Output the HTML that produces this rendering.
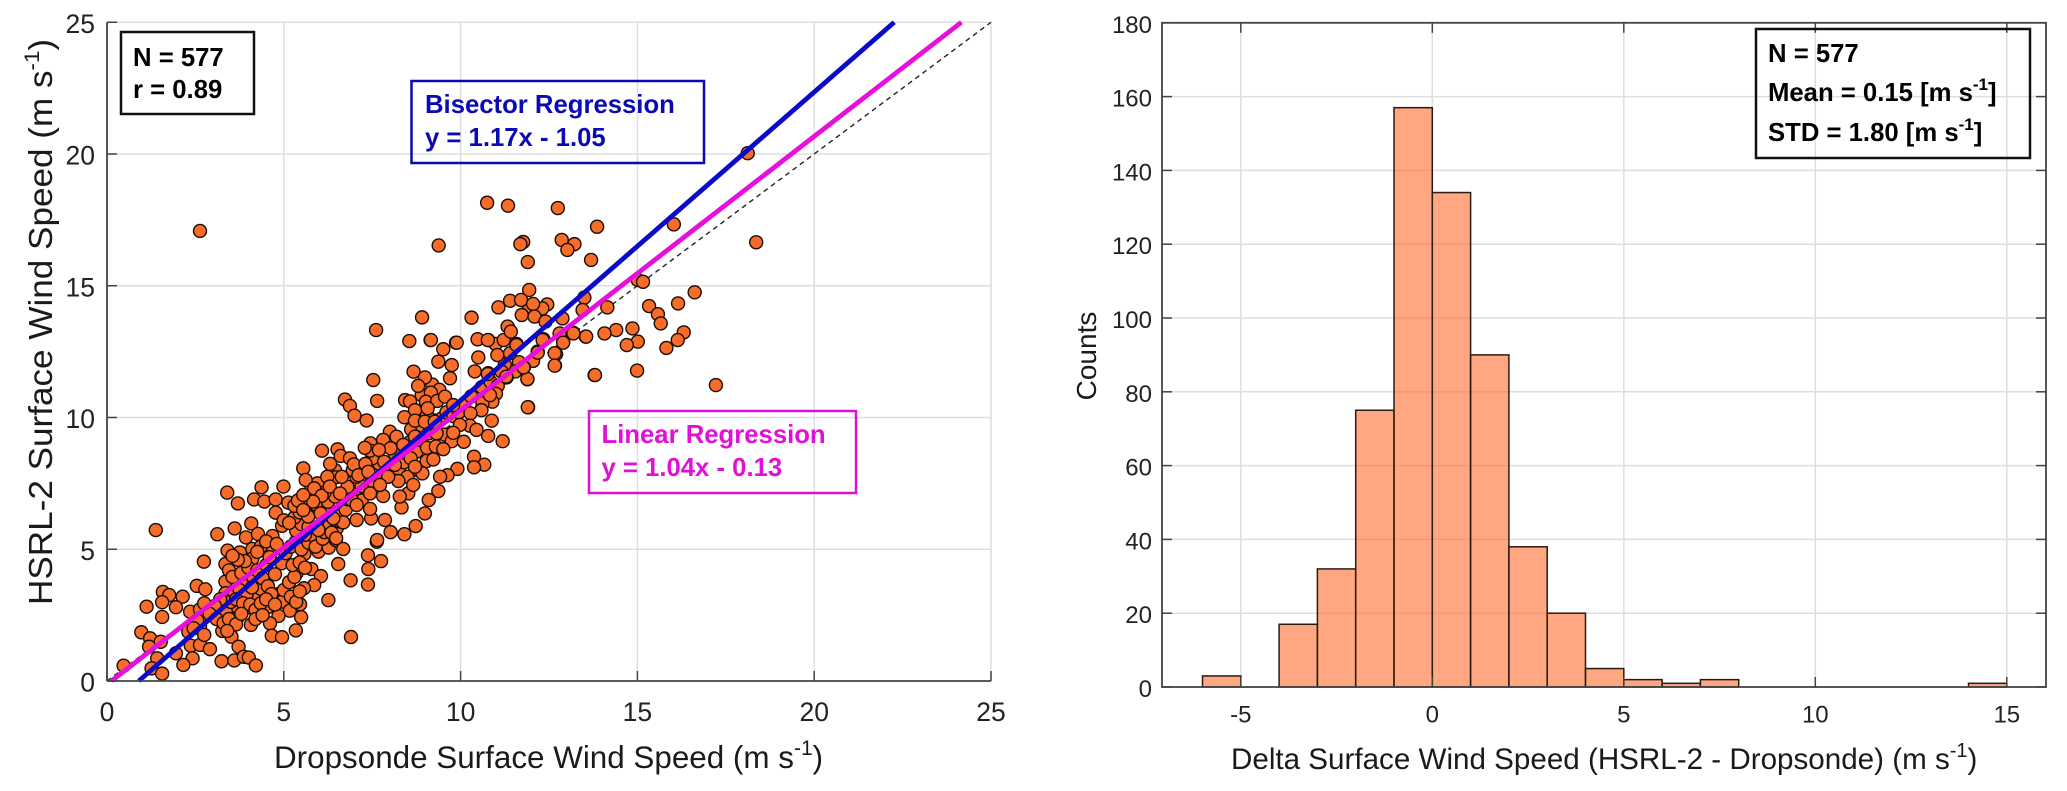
<!DOCTYPE html>
<html lang="en">
<head>
<meta charset="utf-8">
<title>HSRL-2 vs Dropsonde Surface Wind Speed</title>
<style>
html,body{margin:0;padding:0;background:#fff;}
svg{display:block;font-family:"Liberation Sans",Arial,sans-serif;}
.tick{font-size:24px;fill:#222;}
.tick-left{font-size:26.5px;fill:#222;}
.title{fill:#1a1a1a;}
.note{font-size:25.7px;font-weight:bold;}
</style>
</head>
<body>
<svg id="figure" width="2067" height="791" viewBox="0 0 2067 791" xmlns="http://www.w3.org/2000/svg">
  <rect width="2067" height="791" fill="#fff"/>
  <g id="scatterPanel"></g>
  <g id="histPanel"></g>

  <text class="title" font-size="31.4" x="274" y="768">Dropsonde Surface Wind Speed (m s<tspan dy="-13" font-size="21">-1</tspan><tspan dy="13">)</tspan></text>
  <text class="title" font-size="33" transform="translate(52,605) rotate(-90) scale(1.064,1)">HSRL-2 Surface Wind Speed (m s<tspan dy="-13" font-size="21">-1</tspan><tspan dy="13">)</tspan></text>
  <text class="title" font-size="29.6" x="1231" y="769">Delta Surface Wind Speed (HSRL-2 - Dropsonde) (m s<tspan dy="-12" font-size="20">-1</tspan><tspan dy="12">)</tspan></text>
  <text class="title" font-size="28" transform="translate(1096,356) rotate(-90)" text-anchor="middle">Counts</text>

  <g>
    <rect x="121" y="32" width="133" height="82" fill="none" stroke="#111" stroke-width="2.5"/>
    <text class="note" x="133" y="66" fill="#000">N = 577</text>
    <text class="note" x="133" y="98" fill="#000">r = 0.89</text>
  </g>
  <g>
    <rect x="411.5" y="81" width="292.5" height="82" fill="none" stroke="#0a0ab4" stroke-width="2.5"/>
    <text class="note" x="425" y="113" fill="#0a0ab4">Bisector Regression</text>
    <text class="note" x="425" y="146" fill="#0a0ab4">y = 1.17x - 1.05</text>
  </g>
  <g>
    <rect x="589" y="411" width="267" height="82" fill="none" stroke="#e010d8" stroke-width="2.5"/>
    <text class="note" x="601.5" y="443" fill="#e010d8">Linear Regression</text>
    <text class="note" x="601.5" y="476" fill="#e010d8">y = 1.04x - 0.13</text>
  </g>
  <g>
    <rect x="1756" y="29" width="274" height="129" fill="none" stroke="#111" stroke-width="2.5"/>
    <text class="note" x="1768" y="62" fill="#000">N = 577</text>
    <text class="note" x="1768" y="101" fill="#000">Mean = 0.15 [m s<tspan dy="-11" font-size="17">-1</tspan><tspan dy="11">]</tspan></text>
    <text class="note" x="1768" y="141" fill="#000">STD = 1.80 [m s<tspan dy="-11" font-size="17">-1</tspan><tspan dy="11">]</tspan></text>
  </g>
</svg>
<script>
const scatterXTicks = [0, 5, 10, 15, 20, 25];
const scatterYTicks = [0, 5, 10, 15, 20, 25];
const histXTicks = [-5, 0, 5, 10, 15];
const histYTicks = [0, 20, 40, 60, 80, 100, 120, 140, 160, 180];
const binLeftEdges = [-6, -5, -4, -3, -2, -1, 0, 1, 2, 3, 4, 5, 6, 7, 14];
const binCounts = [3, 0, 17, 32, 75, 157, 134, 90, 38, 20, 5, 2, 1, 2, 1];
const bisectorFit = [1.17, -1.05];
const linearFit = [1.04, -0.13];
const windPairs = [
[1.38,5.73],[3.40,7.15],[3.70,6.74],[4.16,6.89],[4.45,6.81],[4.37,7.35],[4.99,7.38],[4.77,6.89],[5.13,6.77],[4.77,6.39],
[4.95,5.89],[3.12,5.57],[3.61,5.79],[4.08,5.98],[3.93,5.45],[4.27,5.58],[4.68,5.50],[3.41,4.95],[3.76,4.88],[4.11,5.01],
[4.11,4.64],[2.74,4.53],[3.35,4.44],[4.70,4.97],[4.94,4.47],[5.36,4.09],[5.58,4.82],[5.98,4.91],[5.78,4.25],[6.27,5.06],
[6.47,5.35],[6.68,5.01],[6.54,4.44],[6.05,3.98],[5.86,3.64],[5.57,3.52],[4.84,3.30],[4.75,4.05],[3.35,3.77],[2.54,3.61],
[2.78,3.48],[1.58,3.38],[1.76,3.26],[2.14,3.20],[1.56,2.99],[1.12,2.82],[1.95,2.80],[1.56,2.43],[2.35,2.63],[2.63,2.72],
[2.63,2.38],[3.35,3.33],[3.76,3.83],[4.26,3.20],[3.67,2.82],[3.36,2.63],[3.69,2.40],[3.95,2.78],[4.56,2.81],[4.96,3.01],
[5.17,2.67],[5.46,2.91],[5.49,2.42],[4.85,2.47],[4.61,2.19],[4.07,2.13],[3.26,1.90],[3.52,1.68],[3.72,1.30],[4.66,1.72],
[4.95,1.66],[5.34,1.92],[6.26,3.07],[6.89,3.82],[7.38,3.66],[7.39,4.25],[7.75,4.55],[7.38,4.77],[7.63,5.29],[6.90,1.67],
[0.97,1.85],[1.22,1.62],[1.52,1.49],[1.19,1.30],[2.37,1.34],[2.63,1.37],[2.91,1.21],[1.95,1.05],[1.42,0.86],[2.42,0.86],
[2.16,0.61],[3.24,0.75],[3.60,0.78],[3.87,0.92],[4.01,0.89],[4.21,0.59],[1.26,0.48],[1.56,0.28],[0.47,0.58],[2.30,1.87],
[2.63,2.06],
[3.45,4.2],[3.55,3.95],[3.8,4.1],[3.9,3.6],[4.0,4.3],[4.15,3.9],[4.25,4.2],[4.35,3.5],[4.4,3.9],[4.5,4.4],
[4.55,3.6],[4.65,3.3],[3.6,3.35],[3.75,3.45],[3.95,3.3],[4.1,3.55],[3.5,3.0],[3.65,3.1],[3.85,2.95],[4.05,2.9],
[4.2,2.7],[4.35,2.95],[4.5,3.1],[3.2,3.1],[3.05,2.85],[2.9,2.55],[3.1,2.35],[3.3,2.2],[3.45,2.35],[3.65,2.15],
[3.8,2.55],[4.2,2.35],[4.4,2.5],[2.75,2.95],[2.55,2.3],[2.45,2.0],[2.75,1.75],[3.4,1.9],[4.75,2.9],[5.0,3.45],
[5.2,3.2],[5.35,3.0],[5.15,3.75],[5.3,3.95],[5.45,3.4],[5.25,4.4],[5.45,4.5],[5.6,4.3],[5.05,4.85],[5.2,5.1],
[5.35,5.3],[5.5,5.0],[5.7,5.25],[5.85,5.5],[5.6,5.55],[5.9,5.1],[6.1,5.4],[5.35,5.7],[5.5,5.95],[5.7,5.85],
[6.0,5.8],[6.15,5.65],[6.3,5.9],[6.5,5.8],[6.6,6.05],[6.3,6.3],[6.55,6.45],[6.15,6.5],[5.3,6.2],[5.45,6.4],
[5.7,6.55],[5.9,6.7],[5.6,6.95],[5.3,6.65],[6.25,6.8],[6.45,7.0],[6.75,6.5],[6.8,6.9],[7.0,7.1],[7.2,7.4],
[7.2,6.85],[7.5,7.6],[7.6,7.85],[7.85,8.1],[8.05,7.9],[7.7,8.25],[8.25,8.05],[8.5,7.75],[8.4,8.3],[8.8,8.0],
[8.15,8.6],[8.45,8.65],[8.75,8.7],[4.35,5.1],[4.5,5.3],[4.6,4.7],[4.25,4.9],[3.9,4.55],[3.7,4.6],[3.55,4.75],
[4.8,5.2],[5.4,6.85],[5.0,6.1],[5.15,6.0],[5.75,7.2],[5.95,7.5],[6.15,7.15],[7.05,7.75],[7.3,8.1],[7.5,8.45],
[6.95,8.0],[6.45,8.0],[8.6,9.55],[8.9,9.7],[9.1,9.4],[9.2,9.9],[9.45,9.95],[9.6,10.2],[9.8,10.05],[9.95,10.2],
[10.1,10.5],[10.3,10.8],[8.55,9.05],[8.85,9.15],[9.05,8.85],[9.3,8.9],[9.55,9.35],[9.75,9.1],[8.9,10.85],[9.2,11.25],
[9.4,11.05],[9.05,10.1],[10.6,11.15],[10.85,11.35],[11.05,11.2],[10.4,11.75],[11.0,10.9],[10.9,10.6],[11.25,12.0],[11.65,12.1],
[12.05,12.15],[11.55,11.75],
[7.61,13.32],[8.55,12.90],[9.15,12.94],[9.87,12.84],[9.51,12.59],[9.37,12.12],[9.75,11.99],[10.48,12.97],[10.78,12.94],[10.99,12.79],
[11.22,12.94],[11.58,12.79],[10.50,12.28],[11.04,12.37],[11.40,12.44],[9.70,11.49],[10.78,11.68],[11.16,11.74],[11.30,11.52],[11.79,11.90],
[11.89,11.45],[12.18,12.50],[12.34,12.97],[12.70,12.41],[12.67,11.97],[12.90,12.88],[13.18,13.22],[13.54,13.07],[13.79,11.61],[11.91,10.39],
[7.53,11.42],[8.67,11.74],[8.99,11.52],[8.80,11.20],[9.16,10.94],[6.73,10.68],[6.87,10.44],[7.00,10.07],[7.34,9.89],[7.64,10.63],
[8.43,10.66],[8.57,10.61],[9.02,10.60],[9.34,10.63],[9.56,10.79],[8.71,10.28],[9.07,10.35],[8.41,10.01],[8.71,9.88],[8.99,9.84],
[9.79,10.47],[10.62,10.54],[10.83,10.85],[10.59,10.28],[10.28,10.16],[10.26,9.69],[9.98,9.72],[10.88,9.88],[10.45,9.53],[9.79,9.42],
[10.09,9.08],[9.32,9.40],[9.27,9.84],[10.78,9.30],[11.19,9.10],[9.51,8.80],[10.38,8.51],[9.91,8.05],[10.67,8.21],[10.38,8.11],
[9.63,7.81],[9.42,7.75],[9.37,7.21],[9.10,6.87],[8.99,6.36],[8.73,5.88],[8.41,5.57],[8.02,5.65],[7.86,6.11],[7.06,6.11],
[7.47,6.17],[7.44,6.53],[6.68,6.02],[8.33,6.59],[7.81,7.02],[7.44,7.12],[8.52,7.12],[8.66,7.44],[8.24,7.59],[8.92,7.88],
[9.04,8.35],[9.23,8.41],[8.59,8.45],[8.00,9.46],[8.19,9.27],[7.81,9.15],[8.02,8.83],[7.45,9.02],[7.44,8.74],[7.69,8.77],
[7.29,8.85],[8.38,8.96],[8.71,9.27],[6.08,8.74],[6.52,8.79],[6.61,8.54],[6.31,8.24],[6.87,8.45],[6.98,8.22],[7.31,8.24],
[7.84,8.32],[8.14,8.20],[7.11,7.81],[6.47,7.73],[6.23,7.75],[6.80,7.37],[6.64,7.75],[7.95,7.75],[7.72,7.44],[7.39,7.94],
[8.71,8.13],[5.55,8.07],[5.62,7.63],[5.86,7.31],[6.07,7.03],[6.30,7.38],[6.59,7.12],[6.92,6.87],[7.06,6.68],[5.83,6.81],
[5.55,7.06],[6.04,6.36],[6.40,6.17],[5.69,6.24],[5.98,5.73],[6.35,5.63],[6.48,5.42],[7.64,5.35],[5.55,6.49],[8.28,7.00],
[10.75,18.15],[11.34,18.04],[12.75,17.95],[9.38,16.53],[11.77,16.66],[11.69,16.58],[13.86,17.24],[12.86,16.74],[13.22,16.58],[13.02,16.36],
[11.90,15.90],[13.69,15.98],[18.12,20.03],[16.03,17.33],[18.36,16.65],[11.94,14.84],[13.50,14.55],[15.01,15.22],[15.16,15.15],[16.62,14.75],
[15.33,14.23],[16.15,14.33],[15.58,13.92],[15.66,13.57],[16.31,13.23],[16.14,12.94],[15.82,12.64],[15.01,12.88],[14.70,12.75],[14.86,13.38],
[14.40,13.32],[14.07,13.19],[13.55,13.07],[14.15,14.18],[13.45,14.08],[12.88,13.76],[11.40,14.43],[11.07,14.18],[11.71,14.46],[12.45,14.29],
[12.31,14.14],[11.91,14.05],[12.05,14.31],[11.73,13.89],[12.09,13.83],[12.40,13.64],[11.33,13.45],[11.42,13.26],[8.91,13.80],[10.31,13.79],
[9.16,12.94],[9.89,12.84],[10.77,12.94],[11.58,12.75],[12.32,12.94],[12.80,13.19],[13.19,13.19],[12.90,12.84],[12.66,12.44],[12.18,12.46],
[12.66,11.97],[13.80,11.61],[14.99,11.78],[17.22,11.23],[11.89,11.46],[11.90,10.39],[11.29,11.55],[10.77,11.65],[11.78,11.90],
[2.63,17.08]
];

const SVG_NS = 'http://www.w3.org/2000/svg';
const scatterPanel = document.getElementById('scatterPanel');
const histPanel = document.getElementById('histPanel');

const sx = v => 107 + v * 35.36;
const sy = v => 681 - v * 26.35;
const hx = v => 1432.3 + v * 38.3;
const hy = v => 687 - v * 3.69;

function make(parent, tag, attrs) {
  const node = document.createElementNS(SVG_NS, tag);
  for (const key in attrs) node.setAttribute(key, attrs[key]);
  parent.appendChild(node);
  return node;
}

const GRID = '#dedede';
const AXIS = '#444';

/* ---------- scatter panel ---------- */
scatterXTicks.forEach(function (t) {
  if (t !== 0) {
    const g = make(scatterPanel, 'line', {x1: sx(t), x2: sx(t), y1: sy(0), y2: sy(25), stroke: GRID, 'stroke-width': 1.5});
    
    
  }
});
scatterYTicks.forEach(function (t) {
  if (t !== 0) {
    const g = make(scatterPanel, 'line', {x1: sx(0), x2: sx(25), y1: sy(t), y2: sy(t), stroke: GRID, 'stroke-width': 1.5});
    
    
  }
});

const identity = make(scatterPanel, 'line', {x1: sx(0), y1: sy(0), x2: sx(25), y2: sy(25), stroke: '#222', 'stroke-width': 1.4, 'stroke-dasharray': '5 4'});



windPairs.forEach(function (p) {
  const c = make(scatterPanel, 'circle', {cx: sx(p[0]), cy: sy(p[1]), r: 6.5, fill: '#f86c2a', stroke: '#1a0d06', 'stroke-width': 1.4});
  
  
});

function fitEnds(fit) {
  const xStart = (0 - fit[1]) / fit[0];
  const xEnd = (25 - fit[1]) / fit[0];
  return {x1: sx(xStart), y1: sy(0), x2: sx(xEnd), y2: sy(25)};
}
const blueEnds = fitEnds(bisectorFit);
const blueLine = make(scatterPanel, 'line', {x1: blueEnds.x1, y1: blueEnds.y1, x2: blueEnds.x2, y2: blueEnds.y2, stroke: '#0a0ac8', 'stroke-width': 4.8});


const pinkEnds = fitEnds(linearFit);
const pinkLine = make(scatterPanel, 'line', {x1: pinkEnds.x1, y1: pinkEnds.y1, x2: pinkEnds.x2, y2: pinkEnds.y2, stroke: '#e60fdc', 'stroke-width': 4.8});



const sxAxis = make(scatterPanel, 'line', {x1: sx(0), x2: sx(25), y1: sy(0), y2: sy(0), stroke: AXIS, 'stroke-width': 1.8});


const syAxis = make(scatterPanel, 'line', {x1: sx(0), x2: sx(0), y1: sy(0), y2: sy(25), stroke: AXIS, 'stroke-width': 1.8});



scatterXTicks.forEach(function (t) {
  const m = make(scatterPanel, 'line', {x1: sx(t), x2: sx(t), y1: sy(0), y2: sy(0) - 10, stroke: AXIS, 'stroke-width': 1.5});
  
  
  const l = make(scatterPanel, 'text', {x: sx(t), y: 721, 'text-anchor': 'middle', class: 'tick-left'});
  
  
  l.textContent = t;
});
scatterYTicks.forEach(function (t) {
  const m = make(scatterPanel, 'line', {x1: sx(0), x2: sx(0) + 10, y1: sy(t), y2: sy(t), stroke: AXIS, 'stroke-width': 1.5});
  
  
  const l = make(scatterPanel, 'text', {x: 95, y: sy(t) + 10.5, 'text-anchor': 'end', class: 'tick-left'});
  
  
  l.textContent = t;
});

/* ---------- histogram panel ---------- */
const hLeft = 1162, hRight = 2046;
histXTicks.forEach(function (t) {
  const g = make(histPanel, 'line', {x1: hx(t), x2: hx(t), y1: hy(0), y2: hy(180), stroke: GRID, 'stroke-width': 1.5});
  
  
});
histYTicks.forEach(function (t) {
  if (t !== 0 && t !== 180) {
    const g = make(histPanel, 'line', {x1: hLeft, x2: hRight, y1: hy(t), y2: hy(t), stroke: GRID, 'stroke-width': 1.5});
    
    
  }
});

binCounts.forEach(function (count, i) {
  if (count > 0) {
    const bar = make(histPanel, 'rect', {
      x: hx(binLeftEdges[i]),
      y: hy(count),
      width: hx(binLeftEdges[i] + 1) - hx(binLeftEdges[i]),
      height: hy(0) - hy(count),
      fill: '#fe6c2b',
      'fill-opacity': 0.6,
      stroke: '#2a1a12',
      'stroke-width': 1.5
    });
    
    
  }
});

const hFrame = make(histPanel, 'rect', {x: hLeft, y: hy(180), width: hRight - hLeft, height: hy(0) - hy(180), fill: 'none', stroke: AXIS, 'stroke-width': 1.8});



histXTicks.forEach(function (t) {
  const m1 = make(histPanel, 'line', {x1: hx(t), x2: hx(t), y1: hy(0), y2: hy(0) - 10, stroke: AXIS, 'stroke-width': 1.5});
  
  
  const m2 = make(histPanel, 'line', {x1: hx(t), x2: hx(t), y1: hy(180), y2: hy(180) + 10, stroke: AXIS, 'stroke-width': 1.5});
  
  
  const l = make(histPanel, 'text', {x: hx(t), y: 722.5, 'text-anchor': 'middle', class: 'tick'});
  
  
  l.textContent = t;
});
histYTicks.forEach(function (t) {
  const m1 = make(histPanel, 'line', {x1: hLeft, x2: hLeft + 10, y1: hy(t), y2: hy(t), stroke: AXIS, 'stroke-width': 1.5});
  
  
  const m2 = make(histPanel, 'line', {x1: hRight, x2: hRight - 10, y1: hy(t), y2: hy(t), stroke: AXIS, 'stroke-width': 1.5});
  
  
  const l = make(histPanel, 'text', {x: 1152, y: hy(t) + 10, 'text-anchor': 'end', class: 'tick'});
  
  
  l.textContent = t;
});
</script>
</body>
</html>
